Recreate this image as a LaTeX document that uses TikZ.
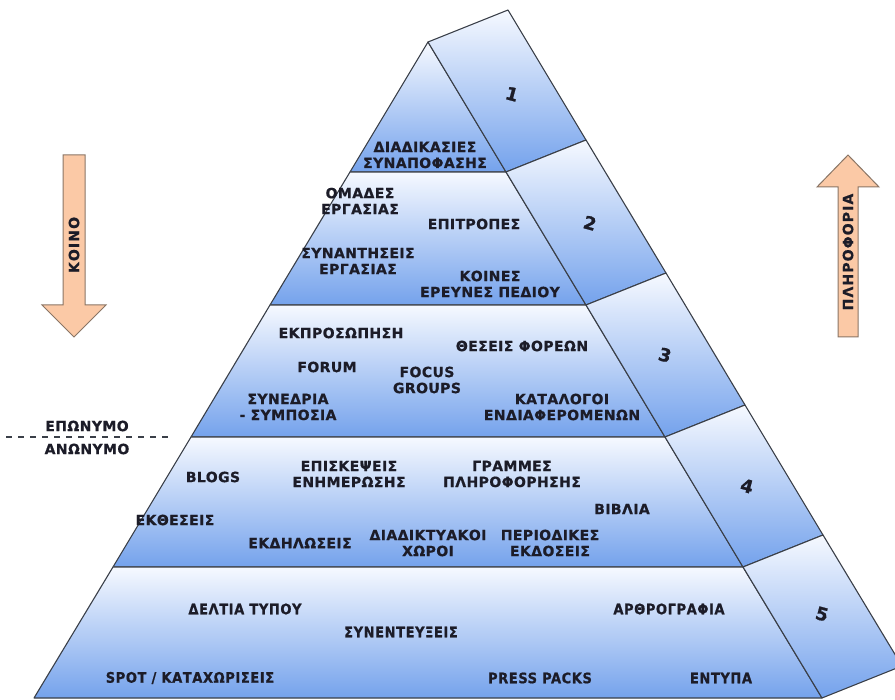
\documentclass[tikz,border=0pt]{standalone}
\usepackage{fontspec}
\newfontfamily\lblfam[LetterSpace=3, BoldFont={DejaVu Sans Bold}, BoldFeatures={FakeBold=0.8}]{DejaVu Sans}
\newfontfamily\condfam[LetterSpace=4, BoldFont={DejaVu Sans Condensed Bold}, BoldFeatures={FakeBold=0.8}]{DejaVu Sans Condensed}
\newfontfamily\arrfam[LetterSpace=8, BoldFont={DejaVu Sans Bold}, BoldFeatures={FakeBold=0.8}]{DejaVu Sans}
\definecolor{txt}{HTML}{1C1C28}
\definecolor{edge}{HTML}{3A3F48}
\definecolor{ltop}{HTML}{F6F9FF}
\definecolor{lbot}{HTML}{74A2EC}
\definecolor{peach}{HTML}{FBC9A6}
\definecolor{peachedge}{HTML}{8A7565}
\tikzset{
  lvl/.style={draw=edge, line width=1.1pt, line join=round, top color=ltop, bottom color=lbot},
  lbl/.style={font=\lblfam\bfseries\fontsize{14}{16}\selectfont, text=txt, align=center, inner sep=0pt},
  lblc/.style={font=\condfam\bfseries\fontsize{14.5}{16}\selectfont, text=txt, align=center, inner sep=0pt},
  num/.style={font=\lblfam\bfseries\fontsize{18}{18}\selectfont, text=txt, inner sep=0pt, rotate=-15},
  bigarrow/.style={fill=peach, draw=peachedge, line width=1pt, line join=miter},
  arrlbl/.style={font=\arrfam\bfseries\fontsize{14}{16}\selectfont, text=txt, inner sep=0pt, rotate=90},
}
\begin{document}
\begin{tikzpicture}[x=1pt, y=-1pt]
\useasboundingbox (0,0) rectangle (895,700);
% front corner points
\coordinate (A) at (428,42);
\coordinate (L1) at (350,172); \coordinate (R1) at (506,172);
\coordinate (L2) at (270,305); \coordinate (R2) at (586,305);
\coordinate (L3) at (191,437); \coordinate (R3) at (665,437);
\coordinate (L4) at (113,567); \coordinate (R4) at (743,567);
\coordinate (L5) at (34,698);  \coordinate (R5) at (822,698);
% outer side points
\coordinate (O0) at (508,10);
\coordinate (O1) at (586,140);
\coordinate (O2) at (666,273);
\coordinate (O3) at (745,405);
\coordinate (O4) at (823,535);
\coordinate (O5) at (902,666);
\begin{scope}
\clip (0,0) rectangle (895,700);
% front levels
\path[lvl] (A) -- (R1) -- (L1) -- cycle;
\path[lvl] (L1) -- (R1) -- (R2) -- (L2) -- cycle;
\path[lvl] (L2) -- (R2) -- (R3) -- (L3) -- cycle;
\path[lvl] (L3) -- (R3) -- (R4) -- (L4) -- cycle;
\path[lvl] (L4) -- (R4) -- (R5) -- (L5) -- cycle;
% side panels
\path[lvl] (A) -- (O0) -- (O1) -- (R1) -- cycle;
\path[lvl] (R1) -- (O1) -- (O2) -- (R2) -- cycle;
\path[lvl] (R2) -- (O2) -- (O3) -- (R3) -- cycle;
\path[lvl] (R3) -- (O3) -- (O4) -- (R4) -- cycle;
\path[lvl] (R4) -- (O4) -- (O5) -- (R5) -- cycle;
\end{scope}
% side numbers
\node[num] (n1) at (512,94) {1};
\node[num] (n2) at (590,223) {2};
\node[num] (n3) at (665,355) {3};
\node[num] (n4) at (747,486) {4};
\node[num] (n5) at (822,614) {5};
% level 1
\node[lbl] (t11) at (425,155) {ΔΙΑΔΙΚΑΣΙΕΣ\\ΣΥΝΑΠΟΦΑΣΗΣ};
% level 2
\node[lbl] (t21) at (360,201) {ΟΜΑΔΕΣ\\ΕΡΓΑΣΙΑΣ};
\node[lbl] (t22) at (474,224) {ΕΠΙΤΡΟΠΕΣ};
\node[lbl] (t23) at (358,261) {ΣΥΝΑΝΤΗΣΕΙΣ\\ΕΡΓΑΣΙΑΣ};
\node[lbl] (t24) at (490,284) {ΚΟΙΝΕΣ\\ΕΡΕΥΝΕΣ ΠΕΔΙΟΥ};
% level 3
\node[lbl] (t31) at (341,333) {ΕΚΠΡΟΣΩΠΗΣΗ};
\node[lbl] (t32) at (522,346) {ΘΕΣΕΙΣ ΦΟΡΕΩΝ};
\node[lbl] (t33) at (327,367) {FORUM};
\node[lbl] (t34) at (427,380) {FOCUS\\GROUPS};
\node[lbl] (t35) at (288,407) {ΣΥΝΕΔΡΙΑ\\- ΣΥΜΠΟΣΙΑ};
\node[lbl] (t36) at (562,407) {ΚΑΤΑΛΟΓΟΙ\\ΕΝΔΙΑΦΕΡΟΜΕΝΩΝ};
% level 4
\node[lbl] (t41) at (213,477) {BLOGS};
\node[lbl] (t42) at (349,474) {ΕΠΙΣΚΕΨΕΙΣ\\ΕΝΗΜΕΡΩΣΗΣ};
\node[lbl] (t43) at (512,474) {ΓΡΑΜΜΕΣ\\ΠΛΗΡΟΦΟΡΗΣΗΣ};
\node[lbl] (t44) at (622,509) {ΒΙΒΛΙΑ};
\node[lbl] (t45) at (175,520) {ΕΚΘΕΣΕΙΣ};
\node[lbl] (t46) at (300,543) {ΕΚΔΗΛΩΣΕΙΣ};
\node[lbl] (t47) at (428,543) {ΔΙΑΔΙΚΤΥΑΚΟΙ\\ΧΩΡΟΙ};
\node[lbl] (t48) at (550,543) {ΠΕΡΙΟΔΙΚΕΣ\\ΕΚΔΟΣΕΙΣ};
% level 5
\node[lblc] (t51) at (245,609) {ΔΕΛΤΙΑ ΤΥΠΟΥ};
\node[lblc] (t52) at (669,609) {ΑΡΘΡΟΓΡΑΦΙΑ};
\node[lblc] (t53) at (401,632) {ΣΥΝΕΝΤΕΥΞΕΙΣ};
\node[lblc] (t54) at (190,678) {SPOT / ΚΑΤΑΧΩΡΙΣΕΙΣ};
\node[lblc] (t55) at (540,678) {PRESS PACKS};
\node[lblc] (t56) at (721,678) {ΕΝΤΥΠΑ};
% arrows
\path[bigarrow] (63,155) -- (85,155) -- (85,305) -- (106,305) -- (74,337) -- (42,305) -- (63,305) -- cycle;
\node[arrlbl] (koino) at (74,245) {ΚΟΙΝΟ};
\path[bigarrow] (838,337) -- (838,187) -- (817,187) -- (848,155) -- (879,187) -- (858,187) -- (858,337) -- cycle;
\node[arrlbl] (pliro) at (848,252) {ΠΛΗΡΟΦΟΡΙΑ};
% named / anonymous divider
\coordinate (dl) at (6,437);
\coordinate (dr) at (168,437);
\draw[edge, line width=1.1pt, dash pattern=on 6pt off 6pt] (dl) -- (dr);
\node[lbl] (epon) at (87,426) {ΕΠΩΝΥΜΟ};
\node[lbl] (anon) at (87,449) {ΑΝΩΝΥΜΟ};
\end{tikzpicture}
\end{document}
